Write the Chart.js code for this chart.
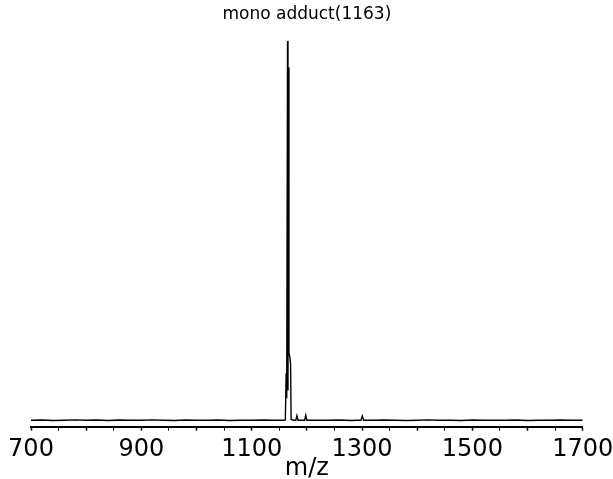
<!DOCTYPE html>
<html>
<head>
<meta charset="utf-8">
<script src="https://cdn.jsdelivr.net/npm/chart.js@4.4.1/dist/chart.umd.min.js"></script>
<style>
  html,body{margin:0;padding:0;background:#fff;}
  #wrap{width:613px;height:479px;position:relative;}
</style>
</head>
<body>
<div id="wrap"><canvas id="c" width="613" height="479"></canvas></div>
<script>
// Baseline (noise) points: m/z and relative intensity
const baseMz = [700,720,740,760,780,800,820,840,860,880,900,920,940,960,980,1000,1020,1040,1060,1080,1100,1120,1140,1220,1240,1260,1280,1320,1340,1360,1380,1400,1420,1440,1460,1480,1500,1520,1540,1560,1580,1600,1620,1640,1660,1680,1700];
const baseInt = [0.2,0.25,0.15,0.2,0.3,0.2,0.25,0.15,0.25,0.2,0.2,0.3,0.2,0.15,0.25,0.2,0.2,0.25,0.15,0.2,0.2,0.25,0.2,0.2,0.2,0.25,0.15,0.2,0.25,0.2,0.15,0.2,0.3,0.2,0.2,0.15,0.25,0.2,0.2,0.2,0.25,0.15,0.2,0.2,0.25,0.2,0.2];
// Peak region points
const peakMz = [1150,1158,1161,1162.5,1163.5,1165,1165.8,1166.6,1167.5,1169,1170.5,1171.5,1176,1180,1182,1184,1190,1196,1198,1200,1206,1290,1298,1300.5,1303,1310];
const peakInt = [0.2,0.2,0.3,12.6,6,100,8,93,18,17,15,0.4,0.2,0.2,1.4,0.2,0.2,0.2,1.5,0.2,0.2,0.2,0.2,1.3,0.2,0.2];
// Axis
const xMin = 700, xMax = 1700, xStep = 50;
const labelledTicks = [700, 900, 1100, 1300, 1500, 1700];
const titleText = 'mono adduct(1163)';
const xTitle = 'm/z';

const points = [];
baseMz.forEach((m, i) => points.push({x: m, y: baseInt[i]}));
peakMz.forEach((m, i) => points.push({x: m, y: peakInt[i]}));
points.sort((a, b) => a.x - b.x);

const FONT = '"DejaVu Sans", sans-serif';

new Chart(document.getElementById('c'), {
  type: 'line',
  data: {
    datasets: [{
      data: points,
      borderColor: '#000',
      borderWidth: 1.4,
      pointRadius: 0,
      tension: 0,
      fill: false
    }]
  },
  options: {
    responsive: false,
    animation: false,
    events: [],
    layout: {padding: {left: 31, right: 30.3, top: 0, bottom: 0}},
    plugins: {
      legend: {display: false},
      tooltip: {enabled: false},
      title: {
        display: true,
        text: titleText,
        color: '#000',
        font: {family: FONT, size: 17, weight: 'normal', lineHeight: 1.2},
        padding: {top: 4.6, bottom: 15.7}
      }
    },
    scales: {
      x: {
        type: 'linear',
        min: xMin,
        max: xMax,
        afterFit: (s) => { s.height = 52.3; s.paddingLeft = 0; s.paddingRight = 0; },
        border: {display: true, color: '#000', width: 2},
        grid: {
          display: true,
          drawOnChartArea: false,
          drawTicks: true,
          tickLength: 4,
          tickColor: '#000',
          tickWidth: (ctx) => (ctx.tick && ctx.tick.value % 100 === 0 ? 1.5 : 1)
        },
        ticks: {
          stepSize: xStep,
          autoSkip: false,
          maxRotation: 0,
          minRotation: 0,
          padding: 7,
          color: '#000',
          font: {family: FONT, size: 24, lineHeight: 1},
          callback: (v) => (labelledTicks.includes(v) ? String(v) : '')
        },
        title: {
          display: true,
          text: xTitle,
          color: '#000',
          font: {family: FONT, size: 24, lineHeight: 0.86},
          padding: {top: 0, bottom: 0}
        }
      },
      y: {
        display: false,
        min: -1.5,
        max: 100
      }
    }
  }
});
</script>
</body>
</html>
